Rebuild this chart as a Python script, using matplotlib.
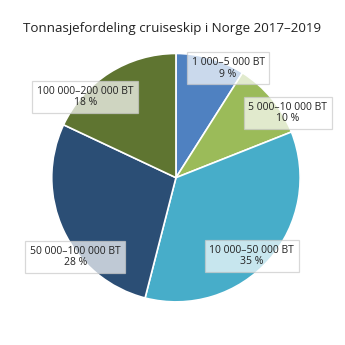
import numpy as np
import matplotlib
matplotlib.use('Agg')
import matplotlib.pyplot as plt

plt.rcParams['font.family'] = ['Open Sans', 'DejaVu Sans']

categories = ['1 000–5 000 BT', '5 000–10 000 BT', '10 000–50 000 BT',
              '50 000–100 000 BT', '100 000–200 000 BT']
shares = [9, 10, 35, 28, 18]
colors = ['#4f81c1', '#9bbb59', '#47adc9', '#2b4e75', '#5f7531']

# label box centres in axes-data coords (pie radius 1, centre 0,0)
label_pos = [(0.42, 0.88), (0.90, 0.52), (0.61, -0.63), (-0.81, -0.64), (-0.73, 0.65)]

fig = plt.figure(figsize=(3.45, 3.45), dpi=100)
ax = fig.add_axes([0.15, 0.125, 0.72, 0.72])
wedges, _ = ax.pie(shares, colors=colors, startangle=90, counterclock=False,
                   wedgeprops=dict(edgecolor='white', linewidth=1.2))
ax.set_xlim(-1, 1)
ax.set_ylim(-1, 1)
ax.set_aspect('equal')

for cat, val, (x, y) in zip(categories, shares, label_pos):
    ax.text(x, y, f'{cat}\n{val} %', ha='center', va='center', fontsize=7.5,
            color='#222222', linespacing=1.05,
            bbox=dict(boxstyle='square,pad=0.45', facecolor='white', alpha=0.7,
                      edgecolor='#c8c8c8', linewidth=0.9))

fig.text(0.5, 0.918, 'Tonnasjefordeling cruiseskip i Norge 2017–2019',
         ha='center', va='center', fontsize=9.6, color='#222222')

fig.savefig('out.png', dpi=100)
